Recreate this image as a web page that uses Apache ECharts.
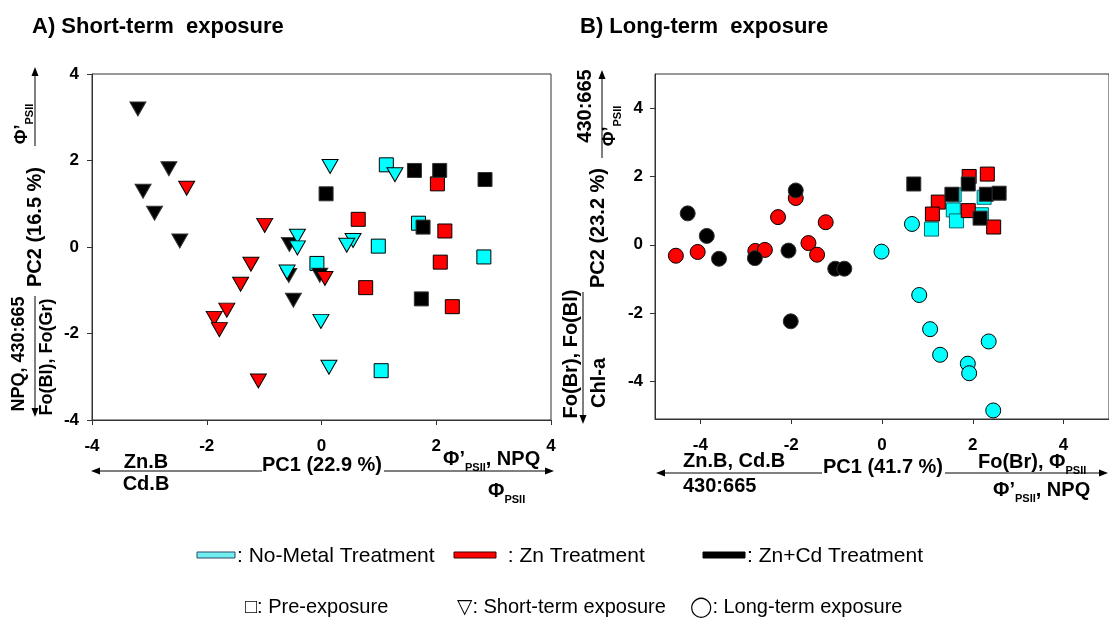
<!DOCTYPE html>
<html>
<head>
<meta charset="utf-8">
<script src="https://cdn.jsdelivr.net/npm/echarts@6/dist/echarts.min.js"></script>
<style>
  html, body { margin: 0; padding: 0; background: #fff; }
  #chart { width: 1109px; height: 621px; }
</style>
</head>
<body>
<div id="chart"></div>
<script>
// ---- PCA scores, panel A (pre-exposure squares, short-term triangles) ----
const preA_noMetal = [[1.13, 1.90], [1.69, 0.55], [0.99, 0.02], [-0.08, -0.38], [2.83, -0.23], [1.04, -2.86]];
const preA_zn      = [[2.02, 1.46], [0.64, 0.64], [2.15, 0.37], [2.07, -0.35], [0.77, -0.94], [2.28, -1.38]];
const preA_znCd    = [[0.08, 1.23], [1.62, 1.77], [2.06, 1.77], [2.85, 1.56], [1.77, 0.46], [1.74, -1.20]];

const shortA_znCd    = [[-3.20, 3.19], [-2.66, 1.81], [-3.11, 1.29], [-2.91, 0.78], [-2.47, 0.14],
                        [-0.56, 0.06], [-0.57, -0.66], [-0.49, -1.23], [-0.03, -0.65]];
const shortA_noMetal = [[0.15, 1.86], [1.28, 1.67], [-0.42, 0.25], [-0.42, -0.02], [0.55, 0.15],
                        [0.44, 0.04], [-0.60, -0.58], [-0.01, -1.72], [0.13, -2.78]];
const shortA_zn      = [[-2.35, 1.36], [-0.99, 0.50], [-1.23, -0.40], [-1.41, -0.86], [-1.65, -1.46],
                        [-1.87, -1.65], [-1.78, -1.91], [-1.10, -3.10], [0.06, -0.73]];

// ---- PCA scores, panel B (pre-exposure squares, long-term circles) ----
const longB_zn      = [[-4.54, -0.32], [-4.06, -0.21], [-2.79, -0.18], [-2.58, -0.15], [-2.29, 0.81],
                       [-1.90, 1.37], [-1.62, 0.05], [-1.43, -0.29], [-1.24, 0.66]];
const longB_znCd    = [[-4.28, 0.92], [-3.86, 0.26], [-3.59, -0.41], [-2.80, -0.39], [-2.06, -0.17],
                       [-1.90, 1.59], [-1.03, -0.70], [-0.83, -0.70], [-2.01, -2.24]];
const longB_noMetal = [[-0.01, -0.20], [0.66, 0.61], [0.82, -1.47], [1.06, -2.47], [1.28, -3.22],
                       [1.89, -3.48], [1.92, -3.76], [2.35, -2.83], [2.45, -4.85]];

const preB_noMetal = [[1.09, 0.46], [1.57, 1.02], [1.64, 0.70], [2.25, 1.39], [2.19, 0.88], [1.59, 1.46]];
const preB_zn      = [[1.92, 2.00], [2.32, 2.07], [1.24, 1.25], [1.11, 0.90], [1.90, 1.00], [2.46, 0.52]];
const preB_znCd    = [[0.70, 1.78], [1.54, 1.48], [1.90, 1.78], [2.30, 1.48], [2.58, 1.51], [2.16, 0.78]];

// ---- axis ticks ----
const ticksA = [-4, -2, 0, 2, 4];
const ticksB = [-4, -2, 0, 2, 4];

const FONT = "'Liberation Sans', Arial, sans-serif";
const SYMFONT = "'Liberation Sans', 'DejaVu Sans', sans-serif";
const CYAN = '#00ffff', RED = '#ff0000', BLACK = '#000000';

const chart = echarts.init(document.getElementById('chart'), null, { renderer: 'canvas' });

// rich text styles: bold body text and bold subscript
const RICH = {
  b: { fontFamily: FONT, fontWeight: 'bold', fontSize: 20, lineHeight: 22, verticalAlign: 'top', fill: '#000' },
  s: { fontFamily: FONT, fontWeight: 'bold', fontSize: 11, lineHeight: 11, verticalAlign: 'top', padding: [13, 0, 0, 0], fill: '#000' },
  bs: { fontFamily: FONT, fontWeight: 'bold', fontSize: 18, lineHeight: 20, verticalAlign: 'top', fill: '#000' },
  ss: { fontFamily: FONT, fontWeight: 'bold', fontSize: 11, lineHeight: 11, verticalAlign: 'top', padding: [11, 0, 0, 0], fill: '#000' }
};

function txt(x, y, text, o) {
  o = o || {};
  return {
    type: 'text', x: x, y: y, rotation: o.rot || 0, z: 10,
    style: {
      text: text, fill: '#000',
      font: o.font || ('bold 20px ' + FONT),
      align: o.align || 'center', verticalAlign: 'middle',
      rich: RICH
    }
  };
}

function arrow(x1, y1, x2, y2) {
  const a = Math.atan2(y2 - y1, x2 - x1), L = 9, W = 3.5;
  const c = Math.cos(a), s = Math.sin(a);
  const bx = x2 - L * c, by = y2 - L * s;
  return [
    { type: 'line', z: 10, shape: { x1: x1, y1: y1, x2: bx, y2: by }, style: { stroke: '#000', lineWidth: 1 } },
    { type: 'polygon', z: 10, shape: { points: [[x2, y2], [bx - W * s, by + W * c], [bx + W * s, by - W * c]] },
      style: { fill: '#000' } }
  ];
}

const ROT = Math.PI / 2;

const annotations = [].concat(
  // titles
  txt(32, 27, 'A) Short-term  exposure', { align: 'left', font: 'bold 22px ' + FONT }),
  txt(580, 27, 'B) Long-term  exposure', { align: 'left', font: 'bold 22px ' + FONT }),

  // panel A, vertical axis
  txt(23, 124, '{bs|Φ’}{ss|PSII}', { rot: ROT }),
  arrow(35, 146, 35, 67),
  txt(35, 227, 'PC2 (16.5 %)', { rot: ROT }),
  txt(19, 354, 'NPQ, 430:665', { rot: ROT, font: 'bold 18px ' + FONT }),
  arrow(35, 296, 35, 417),
  txt(47, 357, 'Fo(Bl), Fo(Gr)', { rot: ROT, font: 'bold 18px ' + FONT }),

  // panel A, horizontal axis
  txt(146, 462, 'Zn.B'),
  arrow(262, 471, 91, 471),
  txt(146, 484, 'Cd.B'),
  txt(322, 465, 'PC1 (22.9 %)'),
  arrow(384, 471, 554, 471),
  txt(443, 460, '{b|Φ’}{s|PSII}{b|, NPQ}', { align: 'left' }),
  txt(488, 492, '{b|Φ}{s|PSII}', { align: 'left' }),

  // panel B, vertical axis
  txt(585, 106, '430:665', { rot: ROT }),
  arrow(602, 158, 602, 70),
  txt(611, 126, '{bs|Φ’}{ss|PSII}', { rot: ROT }),
  txt(598, 228, 'PC2 (23.2 %)', { rot: ROT }),
  txt(571, 354, 'Fo(Br), Fo(Bl)', { rot: ROT }),
  arrow(583, 292, 583, 424),
  txt(599, 383, 'Chl-a', { rot: ROT }),

  // panel B, horizontal axis
  txt(683, 461, 'Zn.B, Cd.B', { align: 'left' }),
  arrow(822, 473, 656, 473),
  txt(683, 486, '430:665', { align: 'left' }),
  txt(883, 467, 'PC1 (41.7 %)'),
  arrow(945, 473, 1108, 473),
  txt(978, 463, '{b|Fo(Br), Φ}{s|PSII}', { align: 'left' }),
  txt(993, 491, '{b|Φ’}{s|PSII}{b|, NPQ}', { align: 'left' }),

  // legend: treatments
  { type: 'rect', z: 10, shape: { x: 197, y: 552, width: 38, height: 6 }, style: { fill: '#70eef0', stroke: '#2a4a6a', lineWidth: 1 } },
  txt(237, 556, ': No-Metal Treatment', { align: 'left', font: '21px ' + FONT }),
  { type: 'rect', z: 10, shape: { x: 454, y: 552, width: 42, height: 6 }, style: { fill: '#ff0000', stroke: '#400000', lineWidth: 1 } },
  txt(502, 556, ' : Zn Treatment', { align: 'left', font: '21px ' + FONT }),
  { type: 'rect', z: 10, shape: { x: 703, y: 552, width: 42, height: 6 }, style: { fill: '#000', stroke: '#000', lineWidth: 1 } },
  txt(747, 556, ': Zn+Cd Treatment', { align: 'left', font: '21px ' + FONT }),

  // legend: exposure periods
  txt(245, 607, '□: Pre-exposure', { align: 'left', font: '20px ' + SYMFONT }),
  txt(457, 607, '▽: Short-term exposure', { align: 'left', font: '20px ' + SYMFONT }),
  txt(690, 607, '◯: Long-term exposure', { align: 'left', font: '20px ' + SYMFONT })
);

const axisLabelStyle = { color: '#000', fontFamily: FONT, fontWeight: 'bold', fontSize: 17 };
const axisLineStyle = { show: true, onZero: false, lineStyle: { color: '#333', width: 1 } };

const TRI = 'path://M0,0 L16,0 L8,14 Z';

function scatter(name, data, idx, symbol, size, color, border, z) {
  return {
    type: 'scatter', name: name, data: data,
    xAxisIndex: idx, yAxisIndex: idx,
    symbol: symbol, symbolSize: size, z: z,
    itemStyle: { color: color, borderColor: border || '#000', borderWidth: 1, opacity: 1 },
    emphasis: { disabled: true },
    animation: false
  };
}

const option = {
  backgroundColor: '#fff',
  animation: false,
  grid: [
    { left: 92, top: 74, width: 459, height: 346, show: true, borderColor: '#333', borderWidth: 1, backgroundColor: 'transparent' },
    { left: 655, top: 74, width: 456, height: 345, show: true, borderColor: '#333', borderWidth: 1, backgroundColor: 'transparent' }
  ],
  xAxis: [
    { gridIndex: 0, type: 'value', min: -4, max: 4, interval: 2,
      axisLine: axisLineStyle, splitLine: { show: false },
      axisTick: { show: true, inside: false, length: 5, lineStyle: { color: '#333' } },
      axisLabel: Object.assign({ margin: 18, customValues: ticksA }, axisLabelStyle) },
    { gridIndex: 1, type: 'value', min: -5, max: 5,
      axisLine: axisLineStyle, splitLine: { show: false },
      axisTick: { show: true, inside: false, length: 5, customValues: ticksB, lineStyle: { color: '#333' } },
      axisLabel: Object.assign({ margin: 18, customValues: ticksB }, axisLabelStyle) }
  ],
  yAxis: [
    { gridIndex: 0, type: 'value', min: -4, max: 4, interval: 2,
      axisLine: axisLineStyle, splitLine: { show: false },
      axisTick: { show: true, inside: false, length: 5, lineStyle: { color: '#333' } },
      axisLabel: Object.assign({ margin: 13, customValues: ticksA }, axisLabelStyle) },
    { gridIndex: 1, type: 'value', min: -5.1, max: 5,
      axisLine: axisLineStyle, splitLine: { show: false },
      axisTick: { show: true, inside: false, length: 5, customValues: ticksB, lineStyle: { color: '#333' } },
      axisLabel: Object.assign({ margin: 12, customValues: ticksB }, axisLabelStyle) }
  ],
  series: [
    // panel A
    scatter('Pre-exposure, No-Metal', preA_noMetal, 0, 'rect', 14, CYAN, '#000', 2),
    scatter('Pre-exposure, Zn', preA_zn, 0, 'rect', 14, RED, '#000', 3),
    scatter('Pre-exposure, Zn+Cd', preA_znCd, 0, 'rect', 14, BLACK, '#333', 4),
    scatter('Short-term, Zn+Cd', shortA_znCd, 0, TRI, [16, 14], BLACK, '#333', 5),
    scatter('Short-term, No-Metal', shortA_noMetal, 0, TRI, [16, 14], CYAN, '#000', 6),
    scatter('Short-term, Zn', shortA_zn, 0, TRI, [16, 14], RED, '#000', 7),
    // panel B
    scatter('Pre-exposure, No-Metal', preB_noMetal, 1, 'rect', 14, CYAN, '#006a6a', 2),
    scatter('Pre-exposure, Zn', preB_zn, 1, 'rect', 14, RED, '#000', 3),
    scatter('Pre-exposure, Zn+Cd', preB_znCd, 1, 'rect', 14, BLACK, '#333', 4),
    scatter('Long-term, Zn', longB_zn, 1, 'circle', 15, RED, '#000', 5),
    scatter('Long-term, Zn+Cd', longB_znCd, 1, 'circle', 15, BLACK, '#333', 6),
    scatter('Long-term, No-Metal', longB_noMetal, 1, 'circle', 15, CYAN, '#000', 7)
  ],
  graphic: annotations
};

chart.setOption(option);
</script>
</body>
</html>
